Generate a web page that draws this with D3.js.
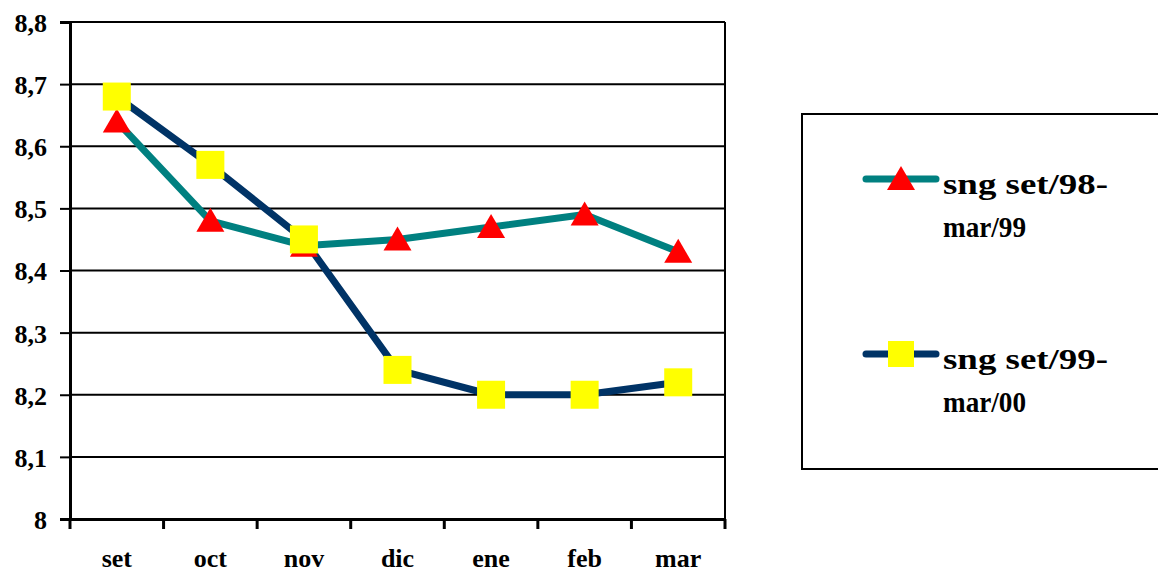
<!DOCTYPE html>
<html><head><meta charset="utf-8">
<script src="https://cdn.jsdelivr.net/npm/d3@7"></script>
<style>body{margin:0;background:#fff}</style>
</head><body>
<svg id="c" width="1158" height="573"></svg>
<script>
const categories = ["set","oct","nov","dic","ene","feb","mar"];
const series1Name = "sng set/98-mar/99";
const series1 = [8.64, 8.48, 8.44, 8.45, 8.47, 8.49, 8.43];
const series2Name = "sng set/99-mar/00";
const series2 = [8.68, 8.57, 8.45, 8.24, 8.20, 8.20, 8.22];
const yTicks = [8.0, 8.1, 8.2, 8.3, 8.4, 8.5, 8.6, 8.7, 8.8];
const yTickLabels = ["8","8,1","8,2","8,3","8,4","8,5","8,6","8,7","8,8"];

const font = "'Times New Roman','Liberation Serif',serif";
const svg = d3.select("#c");
const L = 70, R = 725, T = 22, B = 519;
const x = d3.scaleBand().domain(categories).range([L, R]);
const y = d3.scaleLinear().domain([8.0, 8.8]).range([B, T]);

// gridlines
svg.append("g").selectAll("line").data(yTicks).join("line")
  .attr("x1", L).attr("x2", R).attr("y1", d => y(d)).attr("y2", d => y(d))
  .attr("stroke", "#000").attr("stroke-width", 2);
// right border
svg.append("line").attr("x1", R).attr("x2", R).attr("y1", T).attr("y2", B)
  .attr("stroke", "#000").attr("stroke-width", 2);

// y axis
const yAxis = svg.append("g").attr("transform", `translate(${L},0)`)
  .call(d3.axisLeft(y).tickValues(yTicks).tickSize(10).tickFormat((d, i) => yTickLabels[i]));
yAxis.select(".domain").attr("stroke", "#000").attr("stroke-width", 3);
yAxis.selectAll(".tick line").attr("stroke", "#000").attr("stroke-width", 2);
yAxis.selectAll(".tick text").attr("x", -23).attr("dy", "0.36em")
  .style("font-family", font).style("font-size", "26px").style("font-weight", "bold").attr("fill", "#000");

// x axis
const xAxis = svg.append("g").attr("transform", `translate(0,${B})`)
  .call(d3.axisBottom(x).tickSize(0).tickFormat(d => d));
xAxis.select(".domain").attr("stroke", "#000").attr("stroke-width", 3);
xAxis.selectAll(".tick text").attr("y", 48).attr("dy", 0)
  .style("font-family", font).style("font-size", "26px").style("font-weight", "bold").attr("fill", "#000");
// boundary ticks
const bounds = categories.map(c => x(c)).concat([R]);
svg.append("g").selectAll("line").data(bounds).join("line")
  .attr("x1", d => d).attr("x2", d => d).attr("y1", B).attr("y2", B + 10)
  .attr("stroke", "#000").attr("stroke-width", 3);

const cx = c => x(c) + x.bandwidth() / 2;
const line = d3.line().x((d, i) => cx(categories[i])).y(d => y(d));

// series lines
svg.append("path").datum(series1).attr("d", line).attr("fill", "none")
  .attr("stroke", "#008080").attr("stroke-width", 7).attr("stroke-linejoin", "round");
svg.append("path").datum(series2).attr("d", line).attr("fill", "none")
  .attr("stroke", "#003366").attr("stroke-width", 7).attr("stroke-linejoin", "round");

const tri = (px, py) => `M${px},${py - 13}L${px + 14},${py + 11}L${px - 14},${py + 11}Z`;
svg.append("g").selectAll("path").data(series1).join("path")
  .attr("d", (d, i) => tri(cx(categories[i]), y(d))).attr("fill", "#ff0000");
svg.append("g").selectAll("rect").data(series2).join("rect")
  .attr("x", (d, i) => cx(categories[i]) - 14).attr("y", d => y(d) - 14)
  .attr("width", 28).attr("height", 28).attr("fill", "#ffff00");

// legend
svg.append("rect").attr("x", 802).attr("y", 114).attr("width", 400).attr("height", 355)
  .attr("fill", "#fff").attr("stroke", "#000").attr("stroke-width", 2);
const legend = [
  {name: series1Name, color: "#008080", marker: "tri", ly: 179, lines: ["sng set/98-", "mar/99"]},
  {name: series2Name, color: "#003366", marker: "sq", ly: 354, lines: ["sng set/99-", "mar/00"]}
];
const widths = [165, 83];
legend.forEach(l => {
  svg.append("line").attr("x1", 866).attr("x2", 936).attr("y1", l.ly).attr("y2", l.ly)
    .attr("stroke", l.color).attr("stroke-width", 7).attr("stroke-linecap", "round");
  if (l.marker === "tri") svg.append("path").attr("d", tri(901, l.ly)).attr("fill", "#ff0000");
  else svg.append("rect").attr("x", 888).attr("y", l.ly - 13).attr("width", 26).attr("height", 26).attr("fill", "#ffff00");
  l.lines.forEach((s, k) => svg.append("text").attr("x", 943).attr("y", l.ly + 15 + k * 43)
    .attr("textLength", widths[k]).attr("lengthAdjust", "spacingAndGlyphs")
    .style("font-family", font).style("font-size", "30px").style("font-weight", "bold").attr("fill", "#000")
    .text(s));
});
</script>
</body></html>
